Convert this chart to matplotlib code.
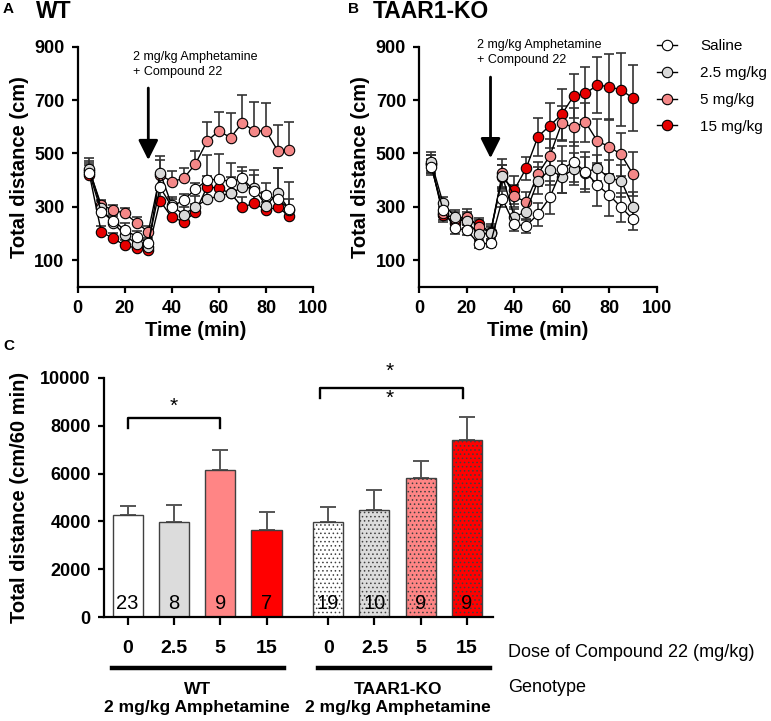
import matplotlib
matplotlib.use("Agg")
import matplotlib.pyplot as plt
import numpy as np
from matplotlib.lines import Line2D

plt.rcParams["font.family"] = ["Liberation Sans", "DejaVu Sans"]
plt.rcParams["hatch.linewidth"] = 0.6
plt.rcParams["hatch.color"] = "#333333"

# ---------------------------------------------------------------------------
# Data
# ---------------------------------------------------------------------------
time_min = [5, 10, 15, 20, 25, 30, 35, 40, 45, 50, 55, 60, 65, 70, 75, 80, 85, 90]
dose_labels = ["Saline", "2.5 mg/kg", "5 mg/kg", "15 mg/kg"]

# panel A, WT (mean, SEM)
wt_saline = [425, 281, 248, 213, 188, 163, 373, 300, 325, 365, 400, 403, 394, 406, 360, 344, 328, 291]
wt_saline_err = [40, 25, 25, 25, 20, 20, 50, 30, 22, 25, 94, 93, 69, 42, 78, 46, 116, 103]
wt_25 = [441, 295, 240, 194, 160, 150, 428, 305, 270, 300, 328, 340, 350, 373, 369, 304, 350, 288]
wt_25_err = [40, 25, 25, 25, 25, 25, 62, 30, 30, 40, 60, 60, 60, 60, 50, 50, 95, 40]
wt_5 = [435, 306, 288, 275, 240, 206, 420, 394, 406, 460, 546, 584, 559, 615, 584, 584, 510, 512]
wt_5_err = [35, 20, 20, 20, 20, 20, 55, 40, 40, 50, 73, 70, 91, 104, 110, 106, 96, 107]
wt_15 = [420, 206, 181, 156, 144, 138, 322, 260, 244, 279, 375, 369, 350, 298, 313, 288, 298, 265]
wt_15_err = [35, 20, 20, 20, 20, 20, 40, 30, 30, 30, 40, 40, 40, 40, 40, 30, 40, 20]

# panel B, TAAR1-KO (mean, SEM)
ko_saline = [450, 288, 219, 213, 160, 163, 329, 234, 228, 272, 335, 440, 468, 431, 381, 344, 298, 253]
ko_saline_err = [30, 25, 20, 20, 15, 15, 30, 25, 25, 43, 62, 87, 76, 75, 77, 78, 54, 40]
ko_25 = [469, 313, 262, 246, 197, 200, 415, 262, 281, 398, 438, 413, 440, 428, 446, 406, 398, 300]
ko_25_err = [35, 25, 25, 25, 25, 25, 40, 30, 30, 50, 55, 60, 60, 60, 48, 70, 60, 56]
ko_5 = [460, 275, 255, 262, 225, 203, 425, 340, 317, 423, 491, 613, 598, 617, 546, 525, 496, 422]
ko_5_err = [35, 25, 25, 30, 25, 25, 53, 40, 40, 46, 62, 65, 71, 73, 82, 103, 82, 82]
ko_15 = [460, 268, 240, 255, 234, 205, 410, 363, 444, 563, 604, 646, 715, 725, 756, 750, 738, 707]
ko_15_err = [35, 25, 25, 25, 25, 30, 45, 52, 44, 71, 84, 94, 82, 100, 106, 123, 137, 124]

# panel C, total distance over 60 min
bar_doses = ["0", "2.5", "5", "15", "0", "2.5", "5", "15"]
bar_means = [4250, 3960, 6140, 3630, 3990, 4490, 5830, 7410]
bar_sem = [400, 710, 840, 770, 600, 810, 700, 960]
bar_n = [23, 8, 9, 7, 19, 10, 9, 9]
bar_pos = [0, 1, 2, 3, 4.33, 5.33, 6.33, 7.33]

# ---------------------------------------------------------------------------
# Style
# ---------------------------------------------------------------------------
line_colors = ["white", "#d9d9d9", "#f48888", "#e60000"]
bar_colors = ["white", "#dcdcdc", "#ff8585", "#ff0000",
              "white", "#dcdcdc", "#ff8585", "#ff0000"]
bar_hatch = [None, None, None, None, "....", "....", "....", "...."]

fig = plt.figure(figsize=(7.71, 7.21), dpi=100)
W, H = 771, 721


def px_axes(x0, y_top, x1, y_bot):
    return fig.add_axes([x0 / W, 1 - y_bot / H, (x1 - x0) / W, (y_bot - y_top) / H])


def style_axes(ax):
    for side in ("top", "right"):
        ax.spines[side].set_visible(False)
    for side in ("left", "bottom"):
        ax.spines[side].set_linewidth(1.6)
    ax.tick_params(direction="out", length=4.5, width=1.6, labelsize=13, pad=5)
    for lab in ax.get_xticklabels() + ax.get_yticklabels():
        lab.set_fontweight("bold")


def time_course(ax, series, errs, both_sides):
    handles = []
    # higher doses first so the saline trace ends up on top
    for i in reversed(range(4)):
        y = np.array(series[i])
        e = np.array(errs[i])
        yerr = e if both_sides else [np.zeros_like(e), e]
        ax.errorbar(time_min, y, yerr=yerr, fmt="none", ecolor="#333333",
                    elinewidth=1.2, capsize=3.6, capthick=1.2, zorder=2 + i * 0.1)
        (h,) = ax.plot(time_min, y, "-o", color="black", lw=1.0,
                       markerfacecolor=line_colors[i], markeredgecolor="black",
                       markeredgewidth=0.8, markersize=7.5, zorder=3 + (3 - i))
        handles.append(h)
    handles.reverse()

    ax.set_xlim(0, 100)
    ax.set_ylim(0, 900)
    ax.set_xticks(range(0, 101, 20))
    ax.set_yticks(range(100, 901, 200))
    ax.set_xlabel("Time (min)", fontsize=14.5, fontweight="bold", labelpad=3)
    ax.set_ylabel("Total distance (cm)", fontsize=14.5, fontweight="bold", labelpad=4)
    style_axes(ax)
    return handles


def arrow_note(ax, text_x, text_y, top, tip):
    ax.annotate("", xy=(30, tip), xytext=(30, top),
                arrowprops=dict(arrowstyle="-|>,head_length=0.6,head_width=0.3",
                                lw=2.0, color="black", mutation_scale=20,
                                shrinkA=0, shrinkB=0))
    ax.text(text_x, text_y, "2 mg/kg Amphetamine\n+ Compound 22", fontsize=9,
            va="center", ha="left", linespacing=1.25)


# ---------------------------------------------------------------------------
# A: WT
# ---------------------------------------------------------------------------
ax_a = px_axes(77.7, 46.7, 313, 286.7)
time_course(ax_a, [wt_saline, wt_25, wt_5, wt_15],
            [wt_saline_err, wt_25_err, wt_5_err, wt_15_err], both_sides=False)
arrow_note(ax_a, 23.6, 833, 745, 475)

# ---------------------------------------------------------------------------
# B: TAAR1-KO
# ---------------------------------------------------------------------------
ax_b = px_axes(419.3, 46.7, 656.7, 286.7)
handles = time_course(ax_b, [ko_saline, ko_25, ko_5, ko_15],
                      [ko_saline_err, ko_25_err, ko_5_err, ko_15_err], both_sides=True)
arrow_note(ax_b, 24.2, 878, 786, 482)

ax_b.legend(handles, dose_labels, loc="upper left", bbox_to_anchor=(1.0, 1.03),
            frameon=False, fontsize=11, handlelength=1.35, handletextpad=1.5,
            labelspacing=0.83, borderaxespad=0, borderpad=0, numpoints=1)

# panel letters and titles
fig.text(3 / W, 1 - 9 / H, "A", fontsize=11, fontweight="bold", va="center")
fig.text(36 / W, 1 - 11 / H, "WT", fontsize=16.5, fontweight="bold", va="center")
fig.text(348 / W, 1 - 9 / H, "B", fontsize=11, fontweight="bold", va="center")
fig.text(373 / W, 1 - 11 / H, "TAAR1-KO", fontsize=16.5, fontweight="bold", va="center")
fig.text(3 / W, 1 - 346 / H, "C", fontsize=11, fontweight="bold", va="center")

# ---------------------------------------------------------------------------
# C: total distance bars
# ---------------------------------------------------------------------------
ax_c = px_axes(104, 378, 493, 617)
ax_c.errorbar(bar_pos, bar_means, yerr=[np.zeros(len(bar_sem)), bar_sem], fmt="none",
              ecolor="#555555", elinewidth=1.4, capsize=5.5, capthick=1.4, zorder=1)
for i, (x, m) in enumerate(zip(bar_pos, bar_means)):
    ax_c.bar(x, m, width=0.65, color=bar_colors[i], edgecolor="#404040",
             linewidth=1.0, hatch=bar_hatch[i], zorder=2)
    ax_c.text(x, 570, str(bar_n[i]), ha="center", va="center", fontsize=14.5, zorder=4)

ax_c.set_xlim(-0.51, 7.89)
ax_c.set_ylim(0, 10000)
ax_c.set_yticks(range(0, 10001, 2000))
ax_c.set_xticks(bar_pos)
ax_c.set_xticklabels(bar_doses)
ax_c.set_ylabel("Total distance (cm/60 min)", fontsize=14.5, fontweight="bold", labelpad=8)
style_axes(ax_c)
ax_c.tick_params(axis="x", length=5.5, labelsize=14, pad=11)

# significance brackets
ax_c.plot([0, 0, 2, 2], [7920, 8340, 8340, 7920], color="black", lw=1.7, clip_on=False)
ax_c.text(1.0, 8820, "*", ha="center", va="center", fontsize=15)
ax_c.plot([4.15, 4.15, 7.24, 7.24], [9150, 9590, 9590, 9150], color="black", lw=1.7,
          clip_on=False)
ax_c.text(5.65, 10260, "*", ha="center", va="center", fontsize=15, clip_on=False)
ax_c.text(5.65, 9146, "*", ha="center", va="center", fontsize=15)

# group underlines and labels
trans = ax_c.get_xaxis_transform()
for x0, x1 in [(-0.33, 3.38), (4.12, 7.83)]:
    ax_c.add_line(Line2D([x0, x1], [-0.213, -0.213], transform=trans, color="black",
                         lw=3.2, clip_on=False))
ax_c.text(1.5, -0.341, "WT\n2 mg/kg Amphetamine", transform=trans, ha="center",
          va="center", fontsize=12.5, fontweight="bold", linespacing=1.25)
ax_c.text(5.83, -0.341, "TAAR1-KO\n2 mg/kg Amphetamine", transform=trans, ha="center",
          va="center", fontsize=12.5, fontweight="bold", linespacing=1.25)
ax_c.text(8.21, -0.149, "Dose of Compound 22 (mg/kg)", transform=trans, ha="left",
          va="center", fontsize=13)
ax_c.text(8.21, -0.297, "Genotype", transform=trans, ha="left", va="center", fontsize=13)

fig.savefig("out.png", dpi=100)
